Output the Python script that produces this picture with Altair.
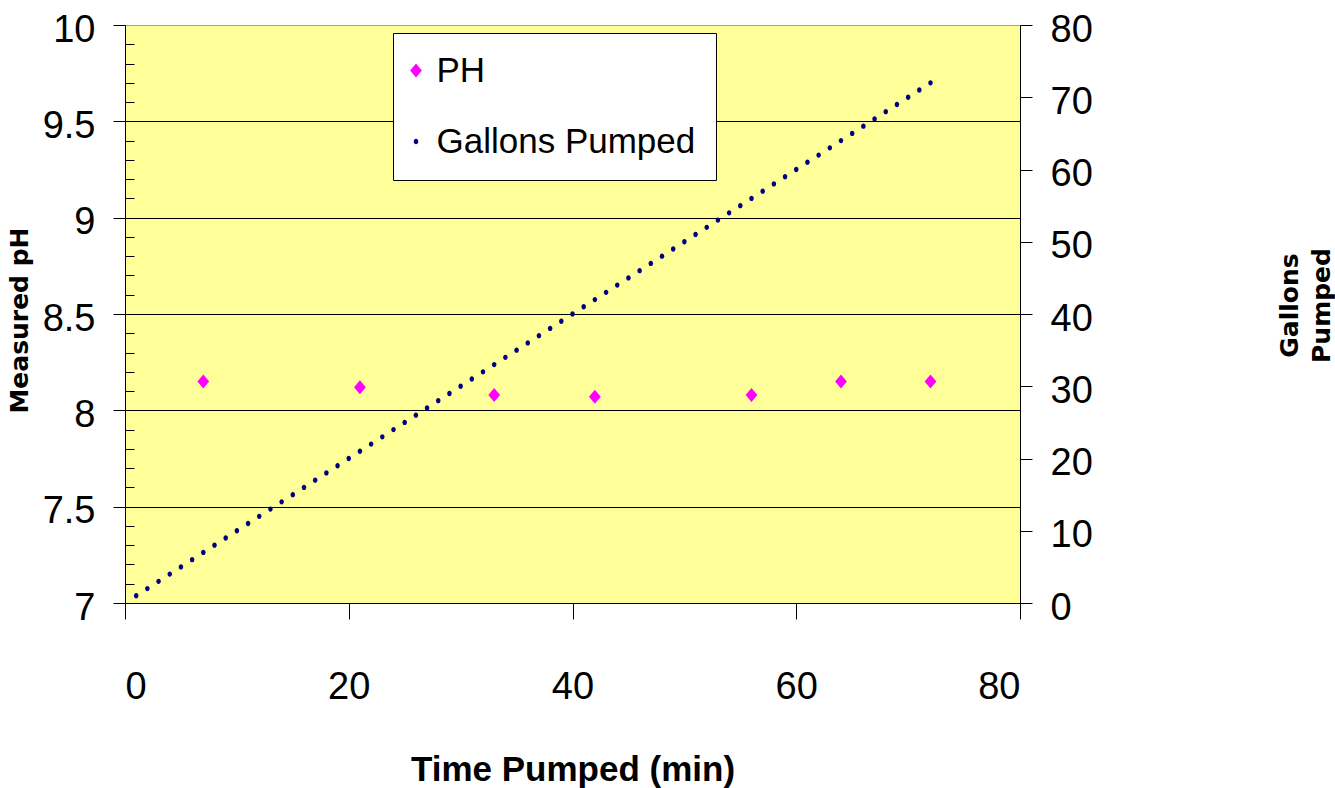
import altair as alt
import pandas as pd

# ---- data ----
ph_time = [7, 21, 33, 42, 56, 64, 72]
ph_values = [8.15, 8.12, 8.08, 8.07, 8.08, 8.15, 8.15]

gal_time = [1, 2, 3, 4, 5, 6, 7, 8, 9, 10, 11, 12, 13, 14, 15, 16, 17, 18,
            19, 20, 21, 22, 23, 24, 25, 26, 27, 28, 29, 30, 31, 32, 33, 34, 35, 36,
            37, 38, 39, 40, 41, 42, 43, 44, 45, 46, 47, 48, 49, 50, 51, 52, 53, 54,
            55, 56, 57, 58, 59, 60, 61, 62, 63, 64, 65, 66, 67, 68, 69, 70, 71, 72]
gal_values = [1, 2, 3, 4, 5, 6, 7, 8, 9, 10, 11, 12, 13, 14, 15, 16, 17, 18,
              19, 20, 21, 22, 23, 24, 25, 26, 27, 28, 29, 30, 31, 32, 33, 34, 35, 36,
              37, 38, 39, 40, 41, 42, 43, 44, 45, 46, 47, 48, 49, 50, 51, 52, 53, 54,
              55, 56, 57, 58, 59, 60, 61, 62, 63, 64, 65, 66, 67, 68, 69, 70, 71, 72]

series_names = ["PH", "Gallons Pumped"]
series_colors = ["#FF00FF", "#000080"]

x_ticks = [0, 20, 40, 60, 80]
ph_ticks = [7, 7.5, 8, 8.5, 9, 9.5, 10]
ph_minor = [7.1, 7.2, 7.3, 7.4, 7.6, 7.7, 7.8, 7.9, 8.1, 8.2, 8.3, 8.4,
            8.6, 8.7, 8.8, 8.9, 9.1, 9.2, 9.3, 9.4, 9.6, 9.7, 9.8, 9.9]
gal_ticks = [0, 10, 20, 30, 40, 50, 60, 70, 80]

ph_df = pd.DataFrame({"time": ph_time, "ph": ph_values, "series": "PH"})
gal_df = pd.DataFrame({"time": gal_time, "gallons": gal_values, "series": "Gallons Pumped"})

# ---- styling ----
SANS = "Liberation Sans"
BOLDWIDE = "DejaVu Sans"
diamond = "M0,-1L0.84,0L0,1L-0.84,0Z"
dot = "M0.32,0A0.32,0.38 0 1,1 -0.32,0A0.32,0.38 0 1,1 0.32,0Z"

legend = alt.Legend(
    orient="none", legendX=268, legendY=8, padding=20, rowPadding=35,
    labelOffset=3, symbolOffset={"expr": "-14.5"},
    symbolSize=196, symbolStrokeWidth=0,
    labelFont=SANS, labelFontSize=35, labelColor="black", labelLimit=500,
    fillColor="white", strokeColor="black",
)

color = alt.Color("series:N", title=None,
                  scale=alt.Scale(domain=series_names, range=series_colors),
                  legend=legend)
shape = alt.Shape("series:N", title=None,
                  scale=alt.Scale(domain=series_names, range=[diamond, dot]),
                  legend=legend)

x_enc = alt.X(
    "time:Q",
    scale=alt.Scale(domain=[0, 80], nice=False, zero=False),
    axis=alt.Axis(
        values=x_ticks, tickSize=16, labelBaseline="alphabetic", labelPadding=79,
        title="Time Pumped (min)", titleFont=SANS, titleFontSize=35,
        titleFontWeight="bold", titleColor="black", titleBaseline="alphabetic",
        titleY=177, grid=False,
    ),
)

ph_layer = alt.Chart(ph_df).mark_point(filled=True, size=196, opacity=1, strokeWidth=0).encode(
    x=x_enc,
    y=alt.Y(
        "ph:Q",
        scale=alt.Scale(domain=[7, 10], nice=False, zero=False),
        axis=alt.Axis(
            orient="left", values=ph_ticks, format="~g", tickSize=12,
            labelPadding=18, labelBaseline="middle", labelOffset=5,
            grid=True, gridWidth=1,
            gridColor={"condition": {"test": "datum.value >= 10", "value": "#A0A0A0"},
                       "value": "black"},
            title="Measured pH", titleFont=BOLDWIDE, titleFontSize=25,
            titleFontWeight="bold", titleColor="black", titleAngle=270,
            titleAlign="center", titleBaseline="middle", titleX=-106, titleY=295,
        ),
    ),
    color=color,
    shape=shape,
)

gal_layer = alt.Chart(gal_df).mark_point(filled=True, size=196, opacity=1, strokeWidth=0).encode(
    x=x_enc,
    y=alt.Y(
        "gallons:Q",
        scale=alt.Scale(domain=[0, 80], nice=False, zero=False),
        axis=alt.Axis(
            orient="right", values=gal_ticks, tickSize=12,
            labelPadding=18, labelBaseline="middle", labelOffset=5, grid=False,
            title=["Gallons", "Pumped"], titleFont=BOLDWIDE, titleFontSize=25,
            titleFontWeight="bold", titleColor="black", titleAngle=270,
            titleAlign="center", titleBaseline="middle", titleLineHeight=32,
            titleX=269, titleY=280,
        ),
    ),
    color=color,
    shape=shape,
)

minor_layer = alt.Chart(ph_df).mark_point(opacity=0).encode(
    x=x_enc,
    y=alt.Y(
        "ph:Q",
        scale=alt.Scale(domain=[7, 10], nice=False, zero=False),
        axis=alt.Axis(
            orient="left", values=ph_minor, offset=-9, tickSize=9,
            labels=False, domain=False, grid=False, title="",
        ),
    ),
)

chart = (
    alt.layer(ph_layer, gal_layer, minor_layer)
    .resolve_scale(y="independent")
    .properties(
        width=895, height=578,
        autosize=alt.AutoSizeParams(type="none"),
        padding={"left": 125, "top": 25, "right": 315, "bottom": 185},
        background="white",
    )
    .configure_view(fill="#FFFF99", stroke="#A0A0A0", strokeWidth=1)
    .configure_axis(
        labelFont=SANS, labelFontSize=38, labelColor="black",
        tickColor="black", domainColor="black", tickWidth=1, domainWidth=1,
    )
)

chart.save("out.html", embed_options={"renderer": "svg", "actions": False})
